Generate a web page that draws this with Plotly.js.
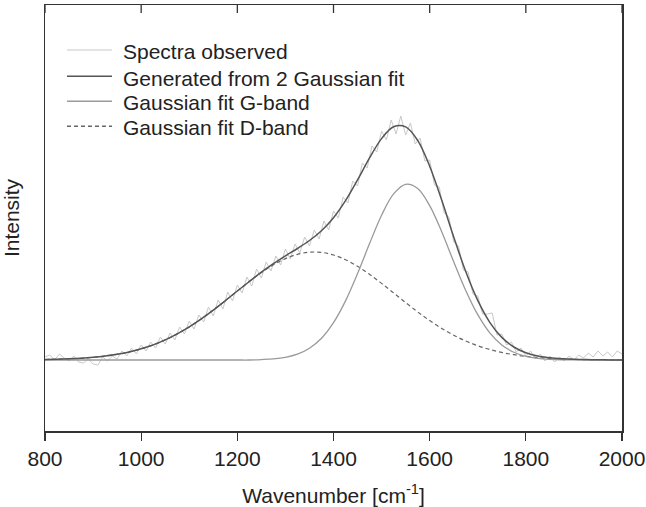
<!DOCTYPE html>
<html>
<head>
<meta charset="utf-8">
<script src="https://cdn.plot.ly/plotly-3.0.1.min.js"></script>
<style>html,body{margin:0;padding:0;background:#fff;}#chart{width:646px;height:507px;}</style>
</head>
<body>
<div id="chart"></div>
<script>
// Wavenumber grid for fitted curves [cm-1]
var fitX = [800,825,850,875,900,925,950,975,1000,1025,1050,1075,1100,1125,1150,1175,1200,1225,1250,1275,1300,1325,1350,1375,1400,1425,1450,1475,1500,1525,1550,1575,1600,1625,1650,1675,1700,1725,1750,1775,1800,1825,1850,1875,1900,1925,1950,1975,2000];
// Gaussian fit D-band (arbitrary intensity units)
var dBand = [0.45,0.72,1.14,1.76,2.66,3.93,5.69,8.06,11.2,15.1,20.1,26.1,33.1,41.1,49.9,59.3,69.0,78.5,87.4,95.2,101.4,105.7,107.8,107.6,105.0,100.3,93.7,85.7,76.6,67.1,57.4,48.1,39.4,31.6,24.8,19.0,14.3,10.5,7.54,5.30,3.64,2.45,1.61,1.04,0.66,0.40,0.24,0.14,0.08];
// Gaussian fit G-band
var gBand = [0,0,0,0,0,0,0,0,0,0,0,0,0,0,0,0,0,0,0.43,1.12,2.65,5.79,11.7,21.7,37.3,59.1,86.4,116.4,144.8,166.1,175.7,171.5,154.4,128.3,98.3,69.5,45.3,27.2,15.1,7.73,3.65,1.59,0.64,0.24,0.08,0,0,0,0];
// Generated from 2 Gaussian fit
var fitSum = [0.45,0.72,1.14,1.76,2.66,3.93,5.69,8.06,11.2,15.1,20.1,26.1,33.1,41.1,49.9,59.3,69.0,78.5,87.8,96.3,104.1,111.5,119.5,129.3,142.3,159.4,180.1,202.1,221.4,233.2,233.1,219.6,193.8,159.9,123.1,88.5,59.6,37.7,22.6,13.0,7.3,4.0,2.3,1.3,0.7,0.4,0.2,0.1,0.1];
// Observed spectrum
var obsX = [800,810,820,830,840,850,860,870,880,890,900,910,920,930,940,950,960,970,980,990,1000,1010,1020,1030,1040,1050,1060,1070,1080,1090,1100,1110,1120,1130,1140,1150,1160,1170,1180,1190,1200,1210,1220,1230,1240,1250,1260,1270,1280,1290,1300,1310,1320,1330,1340,1350,1360,1370,1380,1390,1400,1410,1420,1430,1440,1450,1460,1470,1480,1490,1500,1510,1520,1530,1540,1550,1560,1570,1580,1590,1600,1610,1620,1630,1640,1650,1660,1670,1680,1690,1700,1710,1720,1730,1740,1750,1760,1770,1780,1790,1800,1810,1820,1830,1840,1850,1860,1870,1880,1890,1900,1910,1920,1930,1940,1950,1960,1970,1980,1990,2000];
var obsY = [3,5,0,6,2,-1,4,-2,-3,1,-4,-5,3,-1,4,1,9,4,12,6,15,9,18,12,23,16,27,20,33,26,39,31,45,38,53,44,60,51,68,59,75,67,83,74,91,82,98,89,104,95,111,101,116,107,123,114,130,121,139,130,149,142,163,157,179,174,197,192,214,208,229,220,240,226,244,225,237,216,222,199,200,175,173,147,143,118,114,90,88,66,64,46,46,47,25,26,15,18,8,12,4,9,1,6,-1,4,-2,3,-1,4,0,5,2,7,3,9,4,8,3,9,6];
var tickVals = [800,1000,1200,1400,1600,1800,2000];
var legendNames = ['Spectra observed','Generated from 2 Gaussian fit','Gaussian fit G-band','Gaussian fit D-band'];
var xTitle = 'Wavenumber [cm<sup>-1</sup>]';
var yTitle = 'Intensity';

var colObs = '#c8c8c8', colSum = '#555555', colG = '#9a9a9a', colD = '#666666';
var FONT = 'Liberation Sans, Arial, Helvetica, sans-serif';

var traces = [
  {x: obsX, y: obsY, type: 'scatter', mode: 'lines', name: legendNames[0], line: {color: colObs, width: 1}},
  {x: fitX, y: dBand, type: 'scatter', mode: 'lines', name: legendNames[3], line: {color: colD, width: 1.2, dash: '4px,3px', shape: 'spline'}},
  {x: fitX, y: gBand, type: 'scatter', mode: 'lines', name: legendNames[2], line: {color: colG, width: 1.3, shape: 'spline'}},
  {x: fitX, y: fitSum, type: 'scatter', mode: 'lines', name: legendNames[1], line: {color: colSum, width: 1.5, shape: 'spline'}}
];

// legend drawn as annotations + sample lines
var legRowsY = [0.8904, 0.8286, 0.7700, 0.7113];
var legCols = [colObs, colSum, colG, colD];
var legDash = ['solid','solid','solid','4px,3px'];
var annotations = [], shapes = [];
for (var i = 0; i < 4; i++) {
  annotations.push({xref: 'paper', yref: 'paper', x: 0.1312, y: legRowsY[i], xanchor: 'left', yanchor: 'middle',
    text: legendNames[i], showarrow: false, font: {family: FONT, size: 21, color: '#222'}});
  shapes.push({type: 'line', xref: 'paper', yref: 'paper', x0: 0.0381, x1: 0.1161, y0: legRowsY[i] + 0.004, y1: legRowsY[i] + 0.004,
    line: {color: legCols[i], width: i === 0 ? 1 : 1.4, dash: legDash[i]}});
}
// inward ticks on the top frame, placed through the x scale
for (var k = 0; k < tickVals.length; k++) {
  shapes.push({type: 'line', xref: 'x', yref: 'paper', x0: tickVals[k], x1: tickVals[k], y0: 1, y1: 1 - 8 / 426,
    line: {color: '#333', width: 1.3}});
}

var layout = {
  width: 646, height: 507,
  margin: {l: 45, r: 24, t: 5, b: 76},
  paper_bgcolor: '#fff', plot_bgcolor: '#fff',
  showlegend: false,
  font: {family: FONT, size: 21, color: '#222'},
  xaxis: {
    range: [800, 2000], tickmode: 'array', tickvals: tickVals,
    ticks: 'outside', ticklen: 8, tickwidth: 1.3, tickcolor: '#333',
    showline: true, linecolor: '#333', linewidth: 1.5, mirror: true,
    showgrid: false, zeroline: false,
    tickfont: {family: FONT, size: 21, color: '#222'},
    title: {text: xTitle, font: {family: FONT, size: 21, color: '#222'}}
  },
  yaxis: {
    range: [-71, 355], showticklabels: false, ticks: '',
    showline: true, linecolor: '#333', linewidth: 1.5, mirror: true,
    showgrid: false, zeroline: false,
    title: {text: yTitle, font: {family: FONT, size: 21, color: '#222'}}
  },
  annotations: annotations,
  shapes: shapes
};

Plotly.newPlot('chart', traces, layout, {displayModeBar: false, staticPlot: true});
</script>
</body>
</html>
